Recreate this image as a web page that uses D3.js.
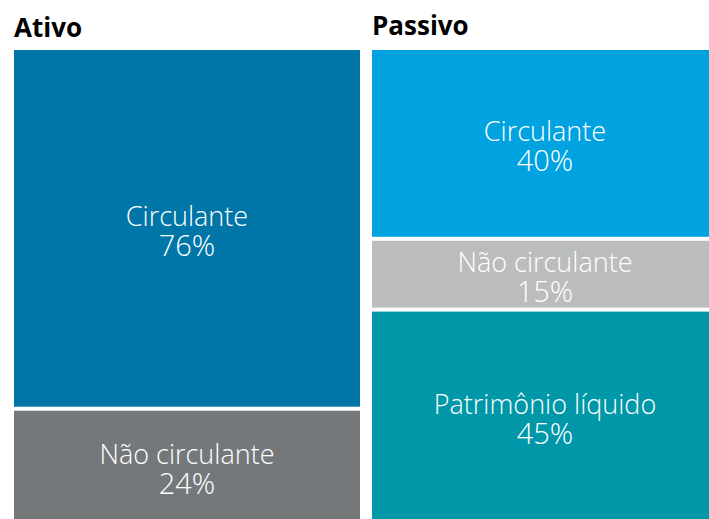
<!DOCTYPE html>
<html lang="pt">
  <head>
    <meta charset="utf-8">
    <title>Ativo e Passivo</title>
    <style>
      body {
        margin: 0;
        background: #fff;
      }

      svg {
        display: block;
      }

      .colTitle {
        font-family: "Open Sans", sans-serif;
        font-weight: bold;
        font-size: 26px;
        fill: #000;
      }

      .cell text {
        font-family: "Open Sans", sans-serif;
        font-weight: 300;
        fill: #fff;
        text-anchor: middle;
      }
    </style>
  </head>
  <body>
    <div id="chart"></div>

    <script src="https://cdn.jsdelivr.net/npm/d3@7"></script>
    <script>

      // chart data
      var columns = ["Ativo", "Passivo"];
      var ativoLabels = ["Circulante", "Não circulante"];
      var ativoValues = [76, 24];
      var passivoLabels = ["Circulante", "Não circulante", "Patrimônio líquido"];
      var passivoValues = [40, 15, 45];

      // fill colours, one list per column
      var ativoColors = ["#0076a8", "#75787b"];
      var passivoColors = ["#00a3e0", "#bbbcbc", "#0097a9"];

      var width = 709,
          height = 519,
          gap = 4;

      var svg = d3.select("#chart").append("svg")
          .attr("width", width)
          .attr("height", height);

      var x = d3.scaleBand()
          .domain(columns)
          .range([14, 718])
          .paddingInner(12 / 358);

      var y = d3.scaleLinear()
          .domain([0, 100])
          .range([50, 522]);

      // build stacked cells for a column
      function makeCells(col, labels, values, colors) {
        var ends = d3.cumsum(values);
        return labels.map(function(l, i) {
          return {
            col: col,
            label: l,
            value: values[i],
            start: ends[i] - values[i],
            end: ends[i],
            first: i == 0,
            last: i == labels.length - 1,
            color: colors[i]
          };
        });
      }

      var cells = makeCells("Ativo", ativoLabels, ativoValues, ativoColors)
          .concat(makeCells("Passivo", passivoLabels, passivoValues, passivoColors));

      // column titles
      svg.selectAll(".colTitle")
          .data(columns)
          .enter().append("text")
          .attr("class", "colTitle")
          .attr("x", function(d) { return x(d); })
          .attr("y", function(d, i) { return i == 0 ? 37 : 35; })
          .text(function(d) { return d; });

      var g = svg.selectAll(".cell")
          .data(cells)
          .enter().append("g")
          .attr("class", "cell");

      function cellTop(d) { return y(d.start) + (d.first ? 0 : gap / 2); }
      function cellBottom(d) { return y(d.end) - (d.last ? 0 : gap / 2); }
      function cellMid(d) { return (cellTop(d) + cellBottom(d)) / 2; }

      g.append("rect")
          .attr("x", function(d) { return x(d.col); })
          .attr("y", cellTop)
          .attr("width", x.bandwidth())
          .attr("height", function(d) { return cellBottom(d) - cellTop(d); })
          .attr("fill", function(d) { return d.color; });

      // label + value as two lines of one text, centred in the cell
      var label = g.append("text")
          .attr("y", function(d) { return cellMid(d) - 2.5; });

      label.append("tspan")
          .attr("x", function(d) { return x(d.col) + x.bandwidth() / 2; })
          .style("font-size", "27px")
          .text(function(d) { return d.label; });

      label.append("tspan")
          .attr("x", function(d) { return x(d.col) + x.bandwidth() / 2; })
          .attr("dy", 30)
          .style("font-size", "29px")
          .text(function(d) { return d.value + "%"; });

    </script>
  </body>
</html>
